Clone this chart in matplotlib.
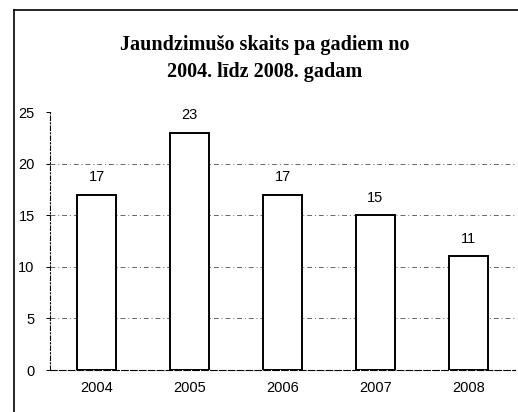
import matplotlib.pyplot as plt
from matplotlib.lines import Line2D

# DATA
years = ["2004", "2005", "2006", "2007", "2008"]
births = [17, 23, 17, 15, 11]
y_ticks = [0, 5, 10, 15, 20, 25]

fig = plt.figure(figsize=(5.18, 4.12), dpi=100)
fig.patch.set_facecolor("white")

# outer frame of the chart area (scan shows only top and left edges)
fig.add_artist(Line2D([14 / 518, 14 / 518], [0, 1 - 10 / 412], transform=fig.transFigure,
                      color="black", lw=1.2))
fig.add_artist(Line2D([14 / 518, 1], [1 - 10 / 412, 1 - 10 / 412], transform=fig.transFigure,
                      color="black", lw=1.2))

ax = fig.add_axes([50 / 518, 1 - 370 / 412, 465 / 518, 258 / 412])

x = list(range(len(years)))
bars = ax.bar(x, births, width=0.42, color="white", edgecolor="black", linewidth=1.4, zorder=3)

for xi, v in zip(x, births):
    ax.text(xi, v + 1.0, str(v), ha="center", va="bottom", fontsize=10.5,
            family="Liberation Sans")

ax.set_xlim(-0.5, 4.5)
ax.set_ylim(0, 25)
ax.set_yticks(y_ticks)
ax.set_xticks(x)
ax.set_xticklabels(years, family="Liberation Sans", fontsize=10.5)
for lbl in ax.get_yticklabels():
    lbl.set_family("Liberation Sans")
    lbl.set_fontsize(10.5)

# horizontal grid, none at the top value
for yv in y_ticks[1:-1]:
    ax.axhline(yv, color="#666666", linestyle=(0, (5, 3, 1, 3)), linewidth=0.7, zorder=0)
ax.tick_params(axis="x", length=0, pad=8)
ax.tick_params(axis="y", length=3, width=0.7, pad=8)

for s in ["top", "right"]:
    ax.spines[s].set_visible(False)
ax.spines["left"].set_linestyle((0, (4, 2, 1, 2)))
ax.spines["left"].set_linewidth(0.8)
ax.spines["bottom"].set_linestyle((0, (6, 2)))
ax.spines["bottom"].set_linewidth(0.8)

fig.text(265 / 518, 1 - 45 / 412, "Jaundzimušo skaits pa gadiem no",
         ha="center", va="center", fontsize=14.5, fontweight="bold", family="Liberation Serif")
fig.text(265 / 518, 1 - 72 / 412, "2004. līdz 2008. gadam",
         ha="center", va="center", fontsize=14.5, fontweight="bold", family="Liberation Serif")

fig.savefig("out.png", dpi=100, facecolor="white")
